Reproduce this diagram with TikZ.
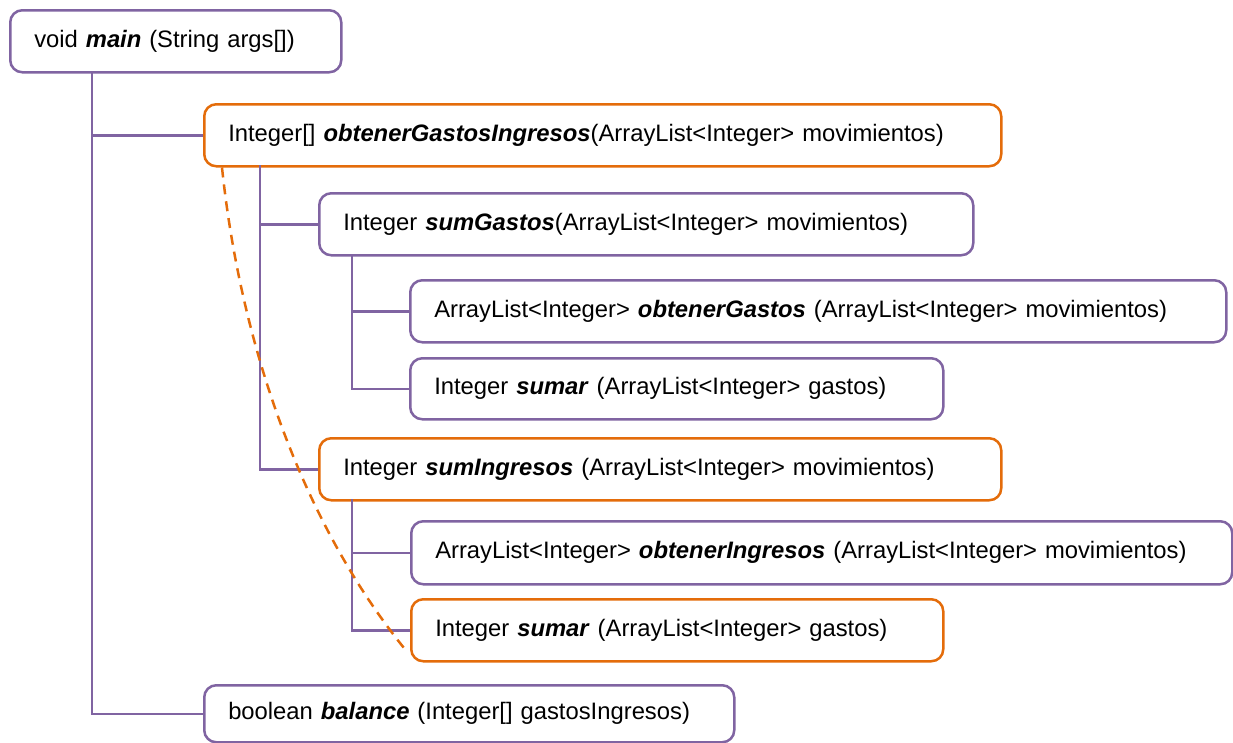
\documentclass[tikz,border=0pt]{standalone}
\usepackage{fontspec}
\setmainfont{Liberation Sans}
\definecolor{purp}{HTML}{8064A2}
\definecolor{oran}{HTML}{E46C0A}
\newcommand\bim[1]{\textbf{\textit{#1}}}
\begin{document}
\begin{tikzpicture}[x=1pt,y=-1pt,
  box/.style={draw, fill=white, rounded corners=12pt, line width=2.5pt, anchor=north west,
    inner xsep=24pt, inner ysep=0pt, align=left, font=\fontsize{23.8}{28}\selectfont},
  conn/.style={draw=purp, line width=2.5pt},
  dsh/.style={draw=oran, line width=2.5pt, dash pattern=on 10pt off 7pt}]
\useasboundingbox (0,0) rectangle (1233,742);
\coordinate (t1) at (92,71);
\coordinate (t2) at (260,165);
\coordinate (t3) at (352,254);
\coordinate (t4) at (352,499);
\node[box, draw=purp, minimum width=331pt, minimum height=62pt, text width=283pt] (main) at (9,9) {void \bim{main} (String args[])};
\node[box, draw=oran, minimum width=797pt, minimum height=62pt, text width=749pt] (obt) at (203,103) {Integer[] \bim{obtenerGastosIngresos}(ArrayList<Integer> movimientos)};
\node[box, draw=purp, minimum width=654pt, minimum height=62pt, text width=606pt] (sumG) at (318,192) {Integer \bim{sumGastos}(ArrayList<Integer> movimientos)};
\node[box, draw=purp, minimum width=816pt, minimum height=62pt, text width=768pt] (obG) at (409,279) {ArrayList<Integer> \bim{obtenerGastos} (ArrayList<Integer> movimientos)};
\node[box, draw=purp, minimum width=533pt, minimum height=61pt, text width=485pt] (sum1) at (409,357) {Integer \bim{sumar} (ArrayList<Integer> gastos)};
\node[box, draw=oran, minimum width=682pt, minimum height=62pt, text width=634pt] (sumI) at (318,437) {Integer \bim{sumIngresos} (ArrayList<Integer> movimientos)};
\node[box, draw=purp, minimum width=821pt, minimum height=63pt, text width=773pt] (obI) at (410,520) {ArrayList<Integer> \bim{obtenerIngresos} (ArrayList<Integer> movimientos)};
\node[box, draw=oran, minimum width=532pt, minimum height=62pt, text width=484pt] (sum2) at (410,598) {Integer \bim{sumar} (ArrayList<Integer> gastos)};
\node[box, draw=purp, minimum width=530pt, minimum height=57pt, text width=482pt] (bal) at (203,684) {boolean \bim{balance} (Integer[] gastosIngresos)};
\draw[conn] (t1) |- (obt.west);
\draw[conn] (t1) |- (bal.west);
\draw[conn] (t2) |- (sumG.west);
\draw[conn] (t2) |- (sumI.west);
\draw[conn] (t3) |- (obG.west);
\draw[conn] (t3) |- (sum1.west);
\draw[conn] (t4) |- (obI.west);
\draw[conn] (t4) |- (sum2.west);
\coordinate (c0) at ([xshift=19pt]obt.south west);
\coordinate (c1) at ([shift={(-4,-12)}]sum2.south west);
\draw[dsh] (c0) .. controls (240,340) and (300,520) .. (c1);
\end{tikzpicture}
\end{document}
